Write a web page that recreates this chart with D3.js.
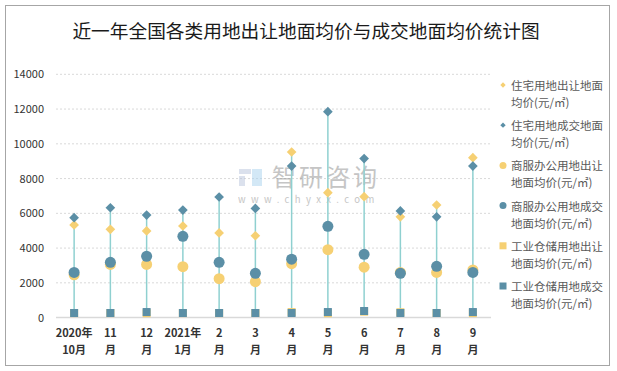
<!DOCTYPE html>
<html>
<head>
<meta charset="utf-8">
<script src="https://cdn.jsdelivr.net/npm/d3@7"></script>
<style>
  body { margin: 0; background: #fff; }
  svg text { font-family: "Noto Sans CJK SC", "Noto Sans", sans-serif; }
</style>
</head>
<body>
<div id="chart"></div>
<script>
// data
const months = [['2020年', '10月'], ['11', '月'], ['12', '月'], ['2021年', '1月'], ['2', '月'], ['3', '月'],
  ['4', '月'], ['5', '月'], ['6', '月'], ['7', '月'], ['8', '月'], ['9', '月']];
const yTicks = [0, 2000, 4000, 6000, 8000, 10000, 12000, 14000];

const resSell = [5330, 5080, 4990, 5270, 4870, 4710, 9530, 7190, 6960, 5800, 6480, 9200];
const resDeal = [5750, 6320, 5900, 6190, 6940, 6280, 8720, 11850, 9150, 6140, 5800, 8720];
const comSell = [2460, 3060, 3060, 2930, 2240, 2070, 3100, 3910, 2900, 2600, 2600, 2740];
const comDeal = [2600, 3180, 3530, 4680, 3180, 2550, 3360, 5250, 3640, 2550, 2950, 2600];
const indSell = [260, 260, 250, 260, 260, 265, 320, 250, 340, 310, 265, 260];
const indDeal = [265, 265, 320, 265, 265, 265, 265, 320, 380, 265, 265, 320];

const seriesNames = ['住宅用地出让地面|均价(元/㎡)', '住宅用地成交地面|均价(元/㎡)', '商服办公用地出让|地面均价(元/㎡)',
  '商服办公用地成交|地面均价(元/㎡)', '工业仓储用地出让|地面均价(元/㎡)', '工业仓储用地成交|地面均价(元/㎡)'];

const blue = '#5b8fa6';
const yellow = '#f6d073';

const svgWidth = 617, svgHeight = 371;
const svg = d3.select('#chart').append('svg').attr('width', svgWidth).attr('height', svgHeight);

// outer frame
svg.append('rect').attr('x', 5.5).attr('y', 5.5).attr('width', 604).attr('height', 360)
  .attr('fill', 'none').attr('stroke', '#a6a6a6').attr('stroke-width', 1);

svg.append('text').attr('x', 306).attr('y', 38).attr('text-anchor', 'middle')
  .attr('font-size', 18.7).attr('fill', '#1a1a1a')
  .text('近一年全国各类用地出让地面均价与成交地面均价统计图');

const x = d3.scaleBand().domain(d3.range(months.length)).range([56, 491]);
const y = d3.scaleLinear().domain([0, 14000]).range([317.6, 74.3]);
const cx = i => x(i) + x.bandwidth() / 2;

// gridlines
svg.append('g').selectAll('line').data(yTicks.filter(d => d > 0)).join('line')
  .attr('x1', 56).attr('x2', 491)
  .attr('y1', d => y(d)).attr('y2', d => y(d))
  .attr('stroke', '#d9d9d9').attr('stroke-dasharray', '2,2');

// watermark
const wm = svg.append('g').attr('opacity', 0.5);
wm.append('rect').attr('x', 239).attr('y', 169).attr('width', 12).attr('height', 5).attr('fill', '#b8c4dc');
wm.append('rect').attr('x', 239).attr('y', 176).attr('width', 6).attr('height', 10).attr('fill', '#b8c4dc');
wm.append('rect').attr('x', 252).attr('y', 169).attr('width', 10).attr('height', 17).attr('fill', '#a9d3ef');
wm.append('text').attr('x', 272).attr('y', 186).attr('font-size', 24).attr('letter-spacing', 3)
  .attr('fill', '#8c8c8c').text('智研咨询');
wm.append('text').attr('x', 238).attr('y', 203).attr('font-size', 9.5).attr('letter-spacing', 5.4)
  .attr('fill', '#8c8c8c').text('www.chyxx.com');

// y axis labels
svg.append('g').selectAll('text').data(yTicks).join('text')
  .attr('x', 44).attr('y', d => y(d) + 4).attr('text-anchor', 'end')
  .attr('font-size', 11).attr('fill', '#333').text(d => d);

// axis line at zero
svg.append('line').attr('x1', 56).attr('x2', 491).attr('y1', y(0)).attr('y2', y(0))
  .attr('stroke', '#d9d9d9').attr('stroke-width', 1.5);

// x labels, two lines each
const xl = svg.append('g').selectAll('text').data(months).join('text')
  .attr('text-anchor', 'middle').attr('font-size', 11).attr('font-weight', 'bold').attr('fill', '#333');
xl.append('tspan').attr('x', (d, i) => cx(i)).attr('y', 337).text(d => d[0]);
xl.append('tspan').attr('x', (d, i) => cx(i)).attr('y', 354).text(d => d[1]);

// high-low lines
const all = [resSell, resDeal, comSell, comDeal, indSell, indDeal];
svg.append('g').selectAll('line').data(months).join('line')
  .attr('x1', (d, i) => cx(i)).attr('x2', (d, i) => cx(i))
  .attr('y1', (d, i) => y(d3.min(all, s => s[i])))
  .attr('y2', (d, i) => y(d3.max(all, s => s[i])))
  .attr('stroke', '#8fd0d0').attr('stroke-width', 1.5);

const diamond = d3.symbol().type(d3.symbolDiamond2).size(60);

function drawDiamonds(vals, color) {
  svg.append('g').selectAll('path').data(vals).join('path')
    .attr('d', diamond)
    .attr('transform', (d, i) => `translate(${cx(i)},${y(d)})`)
    .attr('fill', color);
}
function drawCircles(vals, color) {
  svg.append('g').selectAll('circle').data(vals).join('circle')
    .attr('cx', (d, i) => cx(i)).attr('cy', d => y(d)).attr('r', 5.5)
    .attr('fill', color);
}
function drawSquares(vals, color) {
  svg.append('g').selectAll('rect').data(vals).join('rect')
    .attr('x', (d, i) => cx(i) - 4).attr('y', d => y(d) - 4)
    .attr('width', 8).attr('height', 8)
    .attr('fill', color);
}

drawDiamonds(resSell, yellow);
drawDiamonds(resDeal, blue);
drawCircles(comSell, yellow);
drawCircles(comDeal, blue);
drawSquares(indSell, yellow);
drawSquares(indDeal, blue);

// legend
const legend = svg.append('g');
const shapes = ['diamond', 'diamond', 'circle', 'circle', 'square', 'square'];
const colors = [yellow, blue, yellow, blue, yellow, blue];
seriesNames.forEach((name, k) => {
  const ly = 86 + k * 40.2;
  const g = legend.append('g');
  if (shapes[k] === 'diamond') {
    g.append('path').attr('d', d3.symbol().type(d3.symbolDiamond2).size(18))
      .attr('transform', `translate(503,${ly - 1})`).attr('fill', colors[k]);
  } else if (shapes[k] === 'circle') {
    g.append('circle').attr('cx', 503).attr('cy', ly - 1).attr('r', 3.5).attr('fill', colors[k]);
  } else {
    g.append('rect').attr('x', 499.5).attr('y', ly - 4.5).attr('width', 7).attr('height', 7).attr('fill', colors[k]);
  }
  const parts = name.split('|');
  const t = g.append('text').attr('font-size', 11.5).attr('fill', '#595959');
  t.append('tspan').attr('x', 511).attr('y', ly + 4).text(parts[0]);
  t.append('tspan').attr('x', 511).attr('y', ly + 21).text(parts[1]);
});
</script>
</body>
</html>
